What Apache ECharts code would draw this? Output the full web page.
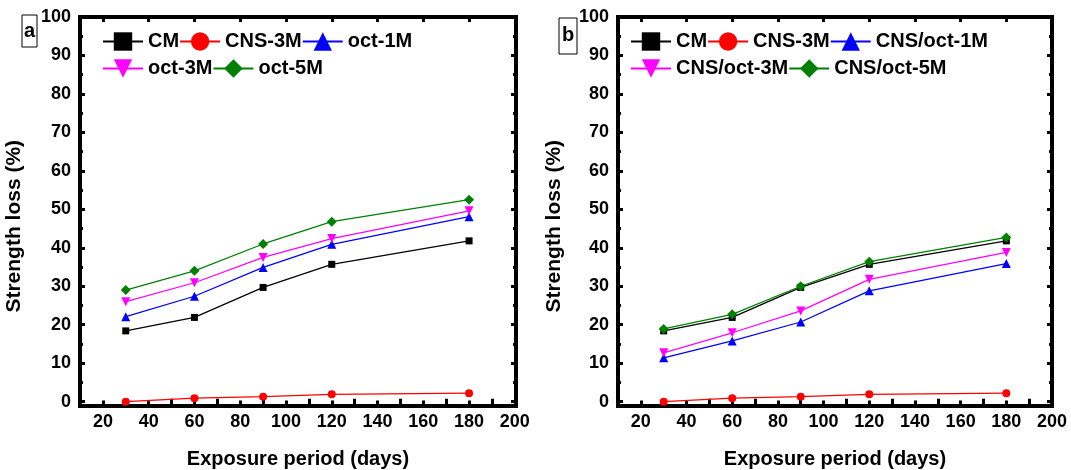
<!DOCTYPE html>
<html>
<head>
<meta charset="utf-8">
<script src="https://cdn.jsdelivr.net/npm/echarts@6/dist/echarts.min.js"></script>
<style>
html,body{margin:0;padding:0;background:#fff;}
#chart{width:1071px;height:470px;}
</style>
</head>
<body>
<div id="chart"></div>
<script>
// ---- data ----
const days = [30, 60, 90, 120, 180];
// panel a
const cmA = [18.4, 21.9, 29.7, 35.7, 41.8];
const cns3mA = [0.0, 0.9, 1.3, 1.9, 2.2];
const oct1mA = [22.1, 27.4, 34.9, 40.9, 48.1];
const oct3mA = [26.0, 30.9, 37.5, 42.4, 49.6];
const oct5mA = [29.0, 34.0, 41.0, 46.8, 52.5];
// panel b
const cmB = [18.4, 21.9, 29.7, 35.7, 41.8];
const cns3mB = [0.0, 0.9, 1.3, 1.9, 2.2];
const cnsOct1mB = [11.4, 15.8, 20.7, 28.8, 35.9];
const cnsOct3mB = [12.7, 17.9, 23.6, 31.8, 38.8];
const cnsOct5mB = [18.9, 22.7, 30.0, 36.4, 42.7];

const namesA = ['CM', 'CNS-3M', 'oct-1M', 'oct-3M', 'oct-5M'];
const namesB = ['CM', 'CNS-3M', 'CNS/oct-1M', 'CNS/oct-3M', 'CNS/oct-5M'];
const panelLabels = ['a', 'b'];

const xMajor = [20, 40, 60, 80, 100, 120, 140, 160, 180, 200];
const xMinor = [30, 50, 70, 90, 110, 130, 150, 170, 190];
const yMajor = [0, 10, 20, 30, 40, 50, 60, 70, 80, 90, 100];
const yMinor = [5, 15, 25, 35, 45, 55, 65, 75, 85, 95];

const xTitle = 'Exposure period (days)';
const yTitle = 'Strength loss (%)';

// ---- styles ----
const FONT = '"Liberation Sans", Arial, sans-serif';
const colors = ['#000000', '#ff0000', '#0000ff', '#ff00ff', '#008000'];
const symbols = ['rect', 'circle', 'triangle', 'triangle', 'diamond'];
const symbolSizes = [7, 8, 9, 9, 10];
const symbolRotates = [0, 0, 0, 180, 0];

const frameLine = {show: true, onZero: false, lineStyle: {color: '#000', width: 4, cap: 'square'}};
const tickStyle = {color: '#000', width: 3};

function xAxes(g, max) {
  const base = {gridIndex: g, type: 'value', min: 10, max: max, splitLine: {show: false}};
  return [
    Object.assign({}, base, {
      position: 'bottom',
      axisLine: frameLine,
      axisTick: {show: true, inside: true, length: 5, lineStyle: tickStyle, customValues: xMajor},
      axisLabel: {show: true, customValues: xMajor, margin: 8, color: '#000', fontSize: 18, fontWeight: 'bold', fontFamily: FONT},
      name: xTitle, nameLocation: 'middle', nameGap: 44,
      nameTextStyle: {color: '#000', fontSize: 20, fontWeight: 'bold', fontFamily: FONT}
    }),
    Object.assign({}, base, {
      position: 'bottom', axisLine: {show: false},
      axisTick: {show: true, inside: true, length: 3, lineStyle: tickStyle, customValues: xMinor},
      axisLabel: {show: false}
    }),
    Object.assign({}, base, {
      position: 'top', axisLine: frameLine,
      axisTick: {show: true, inside: true, length: 5, lineStyle: tickStyle, customValues: xMajor},
      axisLabel: {show: false}
    }),
    Object.assign({}, base, {
      position: 'top', axisLine: {show: false},
      axisTick: {show: true, inside: true, length: 3, lineStyle: tickStyle, customValues: xMinor},
      axisLabel: {show: false}
    })
  ];
}

function yAxes(g, gap) {
  const base = {gridIndex: g, type: 'value', min: -1, max: 100, splitLine: {show: false}};
  return [
    Object.assign({}, base, {
      position: 'left',
      axisLine: frameLine,
      axisTick: {show: true, inside: true, length: 5, lineStyle: tickStyle, customValues: yMajor},
      axisLabel: {show: true, customValues: yMajor, margin: 9, color: '#000', fontSize: 18, fontWeight: 'bold', fontFamily: FONT},
      name: yTitle, nameLocation: 'middle', nameGap: gap,
      nameTextStyle: {color: '#000', fontSize: 21, fontWeight: 'bold', fontFamily: FONT, padding: [0, 30, 0, 0]}
    }),
    Object.assign({}, base, {
      position: 'left', axisLine: {show: false},
      axisTick: {show: true, inside: true, length: 3, lineStyle: tickStyle, customValues: yMinor},
      axisLabel: {show: false}
    }),
    Object.assign({}, base, {
      position: 'right', axisLine: frameLine,
      axisTick: {show: true, inside: true, length: 5, lineStyle: tickStyle, customValues: yMajor},
      axisLabel: {show: false}
    }),
    Object.assign({}, base, {
      position: 'right', axisLine: {show: false},
      axisTick: {show: true, inside: true, length: 3, lineStyle: tickStyle, customValues: yMinor},
      axisLabel: {show: false}
    })
  ];
}

function makeSeries(g, names, arrays) {
  return arrays.map((arr, i) => ({
    type: 'line',
    name: names[i],
    xAxisIndex: g * 4,
    yAxisIndex: g * 4,
    data: days.map((d, k) => [d, arr[k]]),
    symbol: symbols[i],
    symbolSize: symbolSizes[i],
    symbolRotate: symbolRotates[i],
    showAllSymbol: true,
    lineStyle: {color: colors[i], width: 1.2},
    itemStyle: {color: colors[i]},
    emphasis: {disabled: true},
    z: 3 + i
  }));
}

const legendText = {color: '#000', fontSize: 20, fontWeight: 'bold', fontFamily: FONT};
function legend(data, left, top) {
  return {
    data: data, left: left, top: top, orient: 'horizontal',
    itemGap: 0, itemWidth: 40, itemHeight: 23, padding: 0,
    selectedMode: false, textStyle: legendText
  };
}

const chart = echarts.init(document.getElementById('chart'), null, {renderer: 'canvas'});
chart.setOption({
  animation: false,
  backgroundColor: '#fff',
  grid: [
    {left: 80, right: 555, top: 17, bottom: 64.5, containLabel: false, outerBoundsMode: 'none'},
    {left: 618, right: 19, top: 17, bottom: 64.5, containLabel: false, outerBoundsMode: 'none'}
  ],
  xAxis: xAxes(0, 200.5).concat(xAxes(1, 200)),
  yAxis: yAxes(0, 55).concat(yAxes(1, 53)),
  legend: [
    legend(namesA.slice(0, 3), 102, 31.5),
    legend(namesA.slice(3), 102, 58.5),
    legend(namesB.slice(0, 3), 630, 31.5),
    legend(namesB.slice(3), 630, 58.5)
  ],
  graphic: [
    {type: 'rect', shape: {x: 22, y: 15, width: 15, height: 32}, style: {fill: '#fff', stroke: '#000', lineWidth: 1}},
    {type: 'text', x: 29.5, y: 31, style: {text: panelLabels[0], fill: '#000', font: 'bold 20px ' + FONT, align: 'center', verticalAlign: 'middle'}},
    {type: 'rect', shape: {x: 559, y: 18, width: 18, height: 36}, style: {fill: '#fff', stroke: '#000', lineWidth: 1}},
    {type: 'text', x: 568, y: 35, style: {text: panelLabels[1], fill: '#000', font: 'bold 20px ' + FONT, align: 'center', verticalAlign: 'middle'}}
  ],
  series: makeSeries(0, namesA, [cmA, cns3mA, oct1mA, oct3mA, oct5mA])
    .concat(makeSeries(1, namesB, [cmB, cns3mB, cnsOct1mB, cnsOct3mB, cnsOct5mB]))
});
</script>
</body>
</html>
